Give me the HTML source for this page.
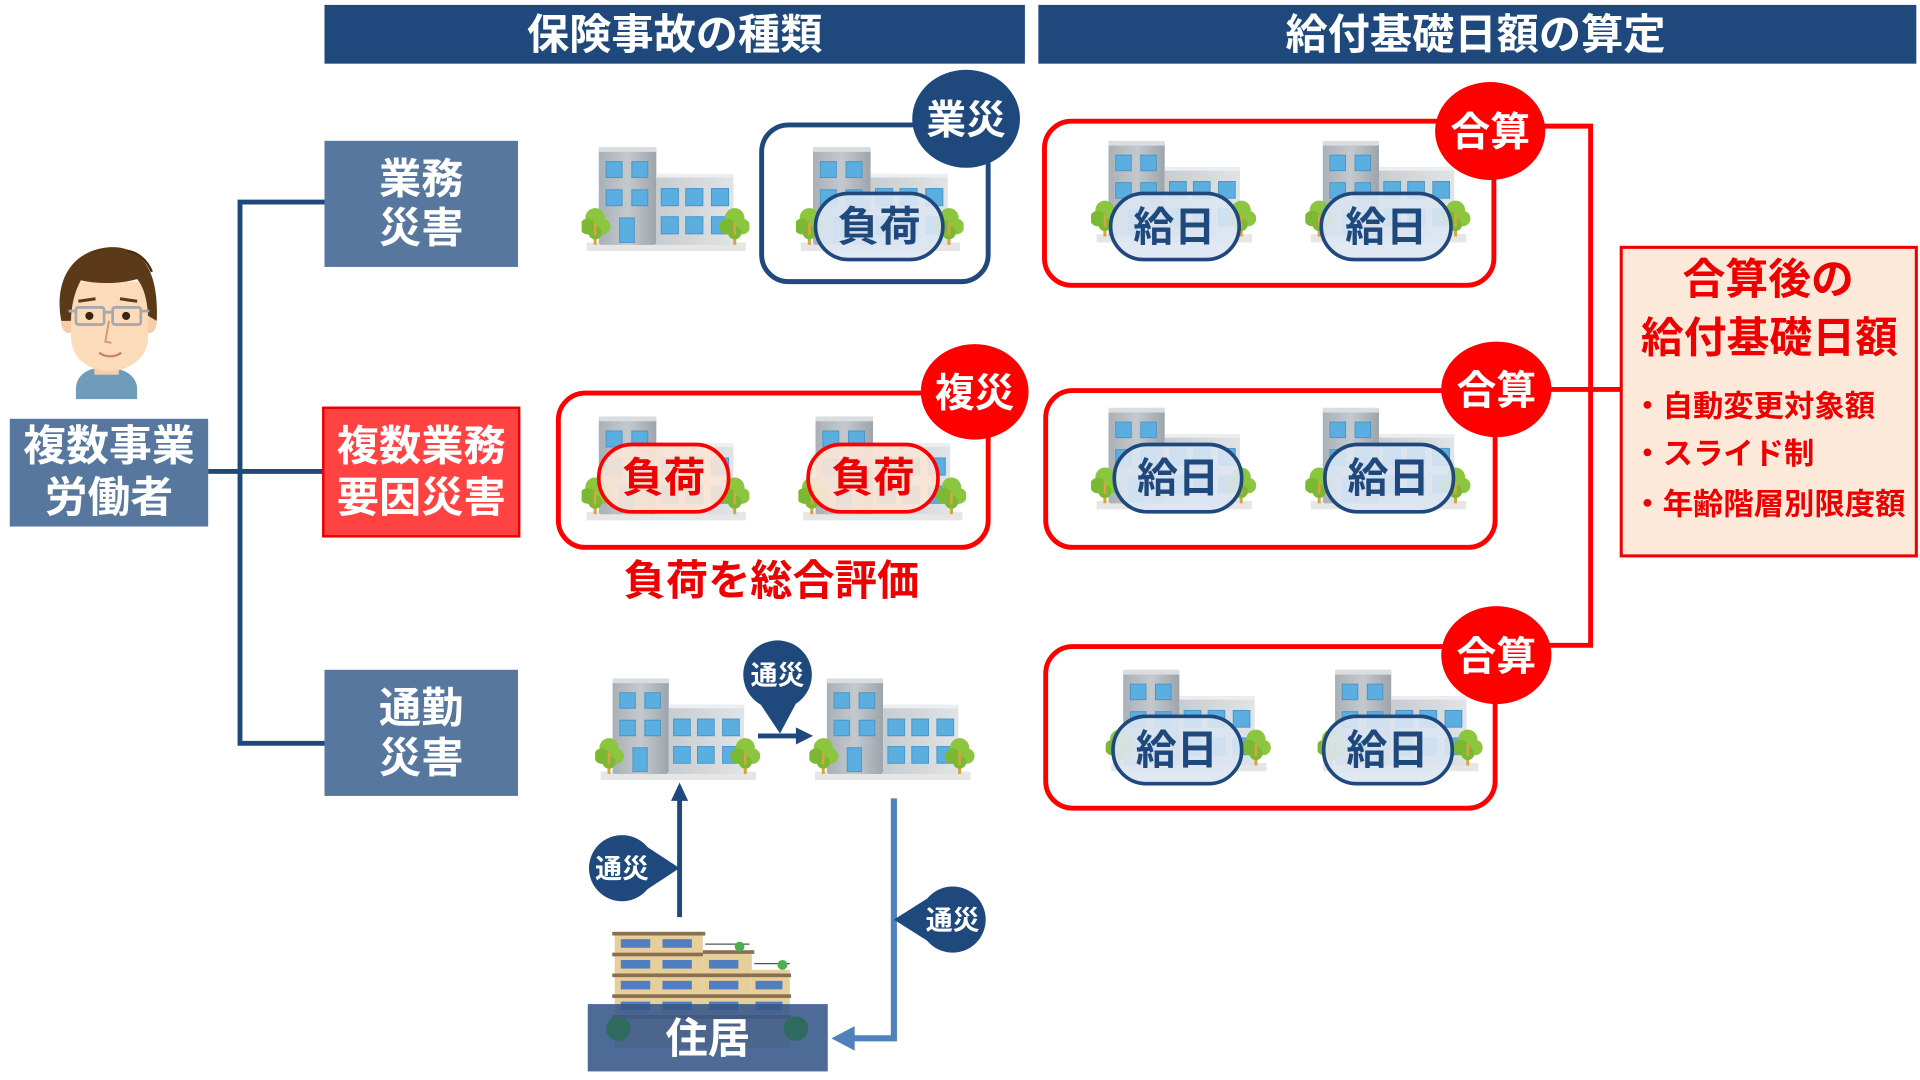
<!DOCTYPE html>
<html><head><meta charset="utf-8">
<style>
html,body{margin:0;padding:0;background:#fff;width:1920px;height:1080px;overflow:hidden}
svg{display:block}
text{font-family:"Liberation Sans","Noto Sans CJK JP",sans-serif;font-weight:700}
</style></head>
<body>
<svg width="1920" height="1080" viewBox="0 0 1568 882" xmlns="http://www.w3.org/2000/svg">
<defs>
<linearGradient id="gt" x1="0" y1="0" x2="1" y2="0"><stop offset="0" stop-color="#a9b0b6"/><stop offset="0.5" stop-color="#c4c9ce"/><stop offset="1" stop-color="#9da4ab"/></linearGradient>
<linearGradient id="gl" x1="0" y1="0" x2="1" y2="0"><stop offset="0" stop-color="#c7ccd0"/><stop offset="1" stop-color="#e1e4e6"/></linearGradient>
<symbol id="b" viewBox="0 0 137 85">
<rect x="4" y="78" width="130" height="7" fill="#e6e6e6"/>
<rect x="14" y="0" width="47" height="80" fill="url(#gt)" rx="2"/>
<rect x="14" y="0" width="47" height="4" fill="#d9dde0"/>
<rect x="61" y="22" width="63" height="58" fill="url(#gl)"/>
<rect x="61" y="22" width="63" height="3" fill="#eceef0"/>
<g fill="#5aaee0" stroke="#4b95c6" stroke-width="0.8">
<rect x="20" y="12" width="13" height="13"/><rect x="41" y="12" width="13" height="13"/>
<rect x="20" y="35" width="13" height="13"/><rect x="41" y="35" width="13" height="13"/>
<rect x="31" y="58" width="12" height="20"/>
<rect x="65" y="34" width="14" height="14"/><rect x="85" y="34" width="14" height="14"/><rect x="106" y="34" width="14" height="14"/>
<rect x="65" y="57" width="14" height="14"/><rect x="85" y="57" width="14" height="14"/><rect x="106" y="57" width="14" height="14"/>
</g>
<g>
<line x1="11" y1="80" x2="11" y2="60" stroke="#d9a441" stroke-width="2.5"/>
<circle cx="11" cy="58" r="8" fill="#8cc63f"/><circle cx="5" cy="65" r="6.5" fill="#7bb934"/><circle cx="17" cy="65" r="6.5" fill="#8cc63f"/><circle cx="11" cy="70" r="5.5" fill="#7bb934"/>
<line x1="11" y1="72" x2="11" y2="62" stroke="#d9a441" stroke-width="2"/>
<line x1="125" y1="80" x2="125" y2="60" stroke="#d9a441" stroke-width="2.5"/>
<circle cx="125" cy="58" r="8" fill="#8cc63f"/><circle cx="119" cy="65" r="6.5" fill="#7bb934"/><circle cx="131" cy="65" r="6.5" fill="#8cc63f"/><circle cx="125" cy="70" r="5.5" fill="#7bb934"/>
<line x1="125" y1="72" x2="125" y2="62" stroke="#d9a441" stroke-width="2"/>
</g>
</symbol>
</defs>

<!-- headers -->
<rect x="265" y="4" width="572" height="48" fill="#1f497d"/>
<text x="551" y="40" font-size="34.5" fill="#fff" text-anchor="middle">保険事故の種類</text>
<rect x="848" y="4" width="717" height="48" fill="#1f497d"/>
<text x="1205" y="40" font-size="34.5" fill="#fff" text-anchor="middle">給付基礎日額の算定</text>

<!-- tree lines -->
<g stroke="#1f497d" stroke-width="4" fill="none">
<polyline points="265,165 196,165 196,607 265,607"/>
<line x1="170" y1="385" x2="265" y2="385"/>
</g>

<!-- person -->
<g>
<path d="M62,326 L62,318 C62,306 72,300 86,300 C100,300 112,306 112,318 L112,326 Z" fill="#6e9cba"/>
<rect x="77" y="288" width="20" height="18" fill="#f6cda6"/>
<ellipse cx="56" cy="263" rx="6" ry="9" fill="#f6cda6"/>
<ellipse cx="122" cy="263" rx="6" ry="9" fill="#f6cda6"/>
<path d="M58,230 L120,230 L121,275 C121,292 106,303 89,303 C72,303 58,292 58,275 Z" fill="#fbdbb9"/>
<path d="M50,262 C44,230 58,205 88,202 C114,200 130,218 128,262 L121,258 C120,243 117,234 112,228 C97,232 80,232 66,229 C61,238 58,250 58,262 Z" fill="#5c3a17"/>
<path d="M104,205 C112,206 120,212 124,222" stroke="#4a2e10" stroke-width="2" fill="none"/>
<line x1="64" y1="246" x2="78" y2="244" stroke="#5c3a17" stroke-width="2.5"/>
<line x1="98" y1="244" x2="112" y2="246" stroke="#5c3a17" stroke-width="2.5"/>
<g fill="none" stroke="#a8a8a8" stroke-width="2.2">
<rect x="62" y="251" width="23" height="14" rx="2"/><rect x="92" y="251" width="23" height="14" rx="2"/>
<line x1="85" y1="255" x2="92" y2="255"/><line x1="56" y1="254" x2="62" y2="254"/><line x1="115" y1="254" x2="122" y2="254"/>
</g>
<circle cx="73" cy="258" r="3.3" fill="#3a2412"/><circle cx="103" cy="258" r="3.3" fill="#3a2412"/>
<path d="M89,262 L86,279 L91,280" stroke="#d89070" stroke-width="1.5" fill="none"/>
<path d="M81,288 C86,292 94,292 99,288" stroke="#d08060" stroke-width="1.8" fill="none"/>
</g>
<rect x="8" y="342" width="162" height="88" fill="#57779f"/>
<text x="89" y="376" font-size="35" fill="#fff" text-anchor="middle">複数事業</text>
<text x="89" y="418" font-size="35" fill="#fff" text-anchor="middle">労働者</text>

<!-- category boxes -->
<rect x="265" y="115" width="158" height="103" fill="#57779f"/>
<text x="344" y="158" font-size="34.5" fill="#fff" text-anchor="middle">業務</text>
<text x="344" y="198" font-size="34.5" fill="#fff" text-anchor="middle">災害</text>
<rect x="264" y="333" width="160" height="105" fill="#ff4343" stroke="#ee0000" stroke-width="2"/>
<text x="344" y="376" font-size="34.5" fill="#fff" text-anchor="middle">複数業務</text>
<text x="344" y="418" font-size="34.5" fill="#fff" text-anchor="middle">要因災害</text>
<rect x="265" y="547" width="158" height="103" fill="#57779f"/>
<text x="344" y="590" font-size="34.5" fill="#fff" text-anchor="middle">通勤</text>
<text x="344" y="631" font-size="34.5" fill="#fff" text-anchor="middle">災害</text>

<!-- row 1 -->
<use href="#b" x="475" y="120" width="137" height="85"/>
<rect x="622" y="102" width="185" height="128" rx="22" fill="none" stroke="#1f497d" stroke-width="4"/>
<use href="#b" x="650" y="120" width="137" height="85"/>
<rect x="666" y="158" width="104" height="54" rx="27" fill="#dce6f2" fill-opacity="0.9" stroke="#1f497d" stroke-width="3"/>
<text x="718" y="197" font-size="34" fill="#1f497d" text-anchor="middle">負荷</text>
<ellipse cx="789" cy="97" rx="44" ry="40" fill="#1f497d"/>
<text x="789" y="109" font-size="32.5" fill="#fff" text-anchor="middle">業災</text>

<!-- row 2 -->
<rect x="456" y="321" width="351" height="126" rx="22" fill="none" stroke="#ff0000" stroke-width="4"/>
<use href="#b" x="475" y="340" width="137" height="85"/>
<use href="#b" x="652" y="340" width="137" height="85"/>
<rect x="489" y="363" width="106" height="55" rx="27" fill="#fbe5d6" fill-opacity="0.9" stroke="#ff0000" stroke-width="3"/>
<text x="542" y="402" font-size="34" fill="#ee0000" text-anchor="middle">負荷</text>
<rect x="660" y="363" width="106" height="55" rx="27" fill="#fbe5d6" fill-opacity="0.9" stroke="#ff0000" stroke-width="3"/>
<text x="713" y="402" font-size="34" fill="#ee0000" text-anchor="middle">負荷</text>
<ellipse cx="796" cy="320" rx="44" ry="39" fill="#ff0000"/>
<text x="796" y="332" font-size="32.5" fill="#fff" text-anchor="middle">複災</text>
<text x="630" y="486" font-size="34.5" fill="#ee0000" text-anchor="middle">負荷を総合評価</text>

<!-- row 3 commute -->
<use href="#b" x="486" y="554" width="135" height="83"/>
<use href="#b" x="661" y="554" width="135" height="83"/>
<line x1="619" y1="601" x2="652" y2="601" stroke="#1f497d" stroke-width="4"/>
<polygon points="664,601 650,594 650,608" fill="#1f497d"/>
<circle cx="635" cy="551" r="28" fill="#1f497d"/>
<polygon points="617,569 653,569 637,599" fill="#1f497d"/>
<text x="635" y="559" font-size="22" fill="#fff" text-anchor="middle">通災</text>

<line x1="555" y1="749" x2="555" y2="652" stroke="#1f497d" stroke-width="4"/>
<polygon points="555,639 548,654 562,654" fill="#1f497d"/>
<circle cx="508" cy="709" r="27" fill="#1f497d"/>
<polygon points="526,690 526,728 555,709" fill="#1f497d"/>
<text x="508" y="717" font-size="22" fill="#fff" text-anchor="middle">通災</text>

<polyline points="730,652 730,848 696,848" fill="none" stroke="#4f81bd" stroke-width="5"/>
<polygon points="679,848 698,838 698,858" fill="#4f81bd"/>
<circle cx="778" cy="751" r="27" fill="#1f497d"/>
<polygon points="760,732 760,770 730,751" fill="#1f497d"/>
<text x="778" y="759" font-size="22" fill="#fff" text-anchor="middle">通災</text>

<!-- house -->
<g>
<rect x="502" y="761" width="72" height="95" fill="#e7cf9c"/>
<rect x="574" y="778" width="40" height="78" fill="#e7cf9c"/>
<rect x="614" y="792" width="31" height="64" fill="#e7cf9c"/>
<g fill="#8a7050">
<rect x="500" y="761" width="76" height="3"/>
<rect x="500" y="778" width="74" height="3"/><rect x="574" y="776" width="42" height="3"/>
<rect x="500" y="795" width="146" height="3"/>
<rect x="500" y="812" width="146" height="3"/>
<rect x="500" y="829" width="146" height="3"/>
</g>
<g stroke="#555" stroke-width="1" fill="none">
<line x1="576" y1="771" x2="612" y2="771"/><line x1="616" y1="787" x2="645" y2="787"/>
</g>
<g fill="#4f7fbf">
<rect x="507" y="767" width="24" height="7"/><rect x="541" y="767" width="24" height="7"/>
<rect x="507" y="784" width="24" height="7"/><rect x="541" y="784" width="24" height="7"/><rect x="579" y="784" width="24" height="7"/>
<rect x="507" y="801" width="24" height="7"/><rect x="541" y="801" width="24" height="7"/><rect x="579" y="801" width="24" height="7"/><rect x="617" y="801" width="22" height="7"/>
<rect x="507" y="818" width="24" height="7"/><rect x="541" y="818" width="24" height="7"/><rect x="579" y="818" width="24" height="7"/><rect x="617" y="818" width="22" height="7"/>
</g>
<circle cx="604" cy="773" r="4" fill="#4caf50"/><circle cx="639" cy="788" r="4" fill="#4caf50"/>
<rect x="480" y="820" width="196" height="55" fill="#36578a" fill-opacity="0.88"/>
<circle cx="505" cy="840" r="10" fill="#2e6a5e"/><circle cx="650" cy="840" r="10" fill="#2e6a5e"/>
<text x="578" y="860" font-size="34.5" fill="#fff" text-anchor="middle">住居</text>
</g>

<!-- right connectors -->
<g stroke="#ff0000" stroke-width="4" fill="none">
<polyline points="1255,103 1299,103 1299,527 1255,527"/>
<line x1="1260" y1="318" x2="1324" y2="318"/>
</g>

<!-- right box A -->
<rect x="853" y="99" width="367" height="134" rx="22" fill="none" stroke="#ff0000" stroke-width="4"/>
<use href="#b" x="891" y="115" width="135" height="83"/>
<use href="#b" x="1066" y="115" width="135" height="83"/>
<rect x="907" y="158" width="105" height="54" rx="27" fill="#dce6f2" fill-opacity="0.9" stroke="#1f497d" stroke-width="3"/>
<text x="959" y="197" font-size="33.5" fill="#1f497d" text-anchor="middle">給日</text>
<rect x="1079" y="158" width="106" height="54" rx="27" fill="#dce6f2" fill-opacity="0.9" stroke="#1f497d" stroke-width="3"/>
<text x="1132" y="197" font-size="33.5" fill="#1f497d" text-anchor="middle">給日</text>
<ellipse cx="1217" cy="107" rx="45" ry="40" fill="#ff0000"/>
<text x="1217" y="119" font-size="32.5" fill="#fff" text-anchor="middle">合算</text>

<!-- right box B -->
<rect x="854" y="319" width="367" height="128" rx="22" fill="none" stroke="#ff0000" stroke-width="4"/>
<use href="#b" x="891" y="333" width="135" height="83"/>
<use href="#b" x="1066" y="333" width="135" height="83"/>
<rect x="910" y="363" width="104" height="55" rx="27" fill="#dce6f2" fill-opacity="0.9" stroke="#1f497d" stroke-width="3"/>
<text x="962" y="402" font-size="33.5" fill="#1f497d" text-anchor="middle">給日</text>
<rect x="1082" y="363" width="105" height="55" rx="27" fill="#dce6f2" fill-opacity="0.9" stroke="#1f497d" stroke-width="3"/>
<text x="1134" y="402" font-size="33.5" fill="#1f497d" text-anchor="middle">給日</text>
<ellipse cx="1222" cy="318" rx="45" ry="39" fill="#ff0000"/>
<text x="1222" y="330" font-size="32.5" fill="#fff" text-anchor="middle">合算</text>

<!-- right box C -->
<rect x="854" y="528" width="367" height="132" rx="22" fill="none" stroke="#ff0000" stroke-width="4"/>
<use href="#b" x="903" y="547" width="135" height="83"/>
<use href="#b" x="1076" y="547" width="135" height="83"/>
<rect x="909" y="585" width="105" height="55" rx="27" fill="#dce6f2" fill-opacity="0.9" stroke="#1f497d" stroke-width="3"/>
<text x="961" y="624" font-size="33.5" fill="#1f497d" text-anchor="middle">給日</text>
<rect x="1081" y="585" width="105" height="55" rx="27" fill="#dce6f2" fill-opacity="0.9" stroke="#1f497d" stroke-width="3"/>
<text x="1133" y="624" font-size="33.5" fill="#1f497d" text-anchor="middle">給日</text>
<ellipse cx="1222" cy="535" rx="45" ry="40" fill="#ff0000"/>
<text x="1222" y="547" font-size="32.5" fill="#fff" text-anchor="middle">合算</text>

<!-- summary box -->
<rect x="1324" y="202" width="241" height="252" fill="#fde9d9" stroke="#ee0000" stroke-width="2.5"/>
<text x="1444" y="240" font-size="35" fill="#ee0000" text-anchor="middle">合算後の</text>
<text x="1445" y="288" font-size="35" fill="#ee0000" text-anchor="middle">給付基礎日額</text>
<text x="1333" y="340" font-size="24.8" fill="#ee0000">・自動変更対象額</text>
<text x="1333" y="379" font-size="24.8" fill="#ee0000">・スライド制</text>
<text x="1333" y="420" font-size="24.8" fill="#ee0000">・年齢階層別限度額</text>
</svg>
</body></html>
